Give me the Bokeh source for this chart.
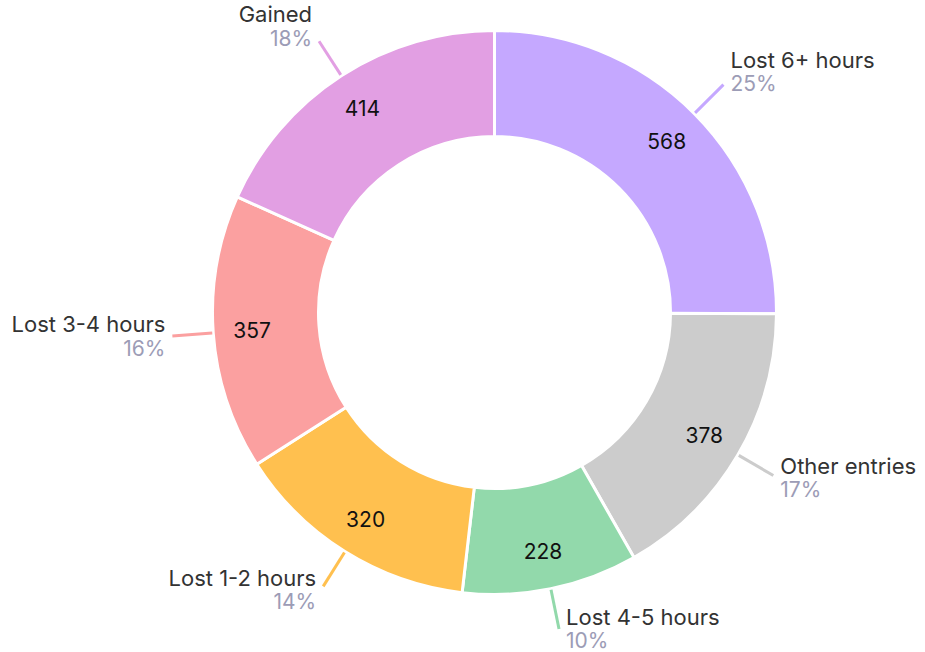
import math
from bokeh.plotting import figure
from bokeh.models import Range1d, ColumnDataSource
from bokeh.core.properties import value
from bokeh.embed import file_html
from bokeh.resources import INLINE

categories = ["Lost 6+ hours", "Other entries", "Lost 4-5 hours", "Lost 1-2 hours", "Lost 3-4 hours", "Gained"]
counts = [568, 378, 228, 320, 357, 414]
colors = ["#c5a8ff", "#cccccc", "#92d9ab", "#ffc04f", "#fba0a0", "#e29fe3"]

W, H = 925, 652
p = figure(width=W, height=H, output_backend="svg", toolbar_location=None,
           x_range=Range1d(0, W), y_range=Range1d(0, H), min_border=0)
p.axis.visible = False
p.grid.visible = False
p.outline_line_color = None

FONT = "Inter"
cx, cy = 494, H - 312
r_out, r_in = 282, 176
total = sum(counts)

starts, ends, mids = [], [], []
c = 0.0
for v in counts:
    f0 = c / total
    c += v
    f1 = c / total
    starts.append(math.pi / 2 - 2 * math.pi * f0)
    ends.append(math.pi / 2 - 2 * math.pi * f1)
    mids.append((f0 + f1) / 2 * 2 * math.pi)  # clockwise from top

src = ColumnDataSource(dict(x=[cx] * len(counts), y=[cy] * len(counts), s=starts, e=ends, c=colors))
p.annular_wedge(x="x", y="y", inner_radius=r_in, outer_radius=r_out, start_angle="s", end_angle="e",
                direction="clock", fill_color="c", line_color="white", line_width=3, source=src)

# value labels
vx, vy, vt = [], [], []
for v, a in zip(counts, mids):
    vx.append(cx + 243 * math.sin(a))
    vy.append(cy + 243 * math.cos(a))
    vt.append(str(v))
p.text(x=vx, y=vy, text=vt, text_align="center", text_baseline="middle",
       text_font=value(FONT), text_font_size="21px", text_color="#111111")

# leader lines + outside labels
for name, v, col, a in zip(categories, counts, colors, mids):
    sx, sy = math.sin(a), math.cos(a)
    x0, y0 = cx + (r_out + 1) * sx, cy + (r_out + 1) * sy
    x1, y1 = cx + 323 * sx, cy + 323 * sy
    p.segment(x0=[x0], y0=[y0], x1=[x1], y1=[y1], line_color=col, line_width=3)
    cc = math.cos(a)
    dy = 18 * cc if cc > 0 else 4 * cc  # upward shift in data coords
    yc = max(y1 + dy, 24)  # keep the block inside the page
    right = sx > 0
    tx = x1 + 7 if right else x1 - 7
    align = "left" if right else "right"
    pct = f"{round(100 * v / total)}%"
    p.text(x=[tx], y=[yc + 12], text=[name], text_align=align, text_baseline="middle",
           text_font=value(FONT), text_font_size="22px", text_color="#333333")
    p.text(x=[tx], y=[yc - 12], text=[pct], text_align=align, text_baseline="middle",
           text_font=value(FONT), text_font_size="21px", text_color="#9c9cb6")

open("out.html", "w").write(file_html(p, INLINE))
